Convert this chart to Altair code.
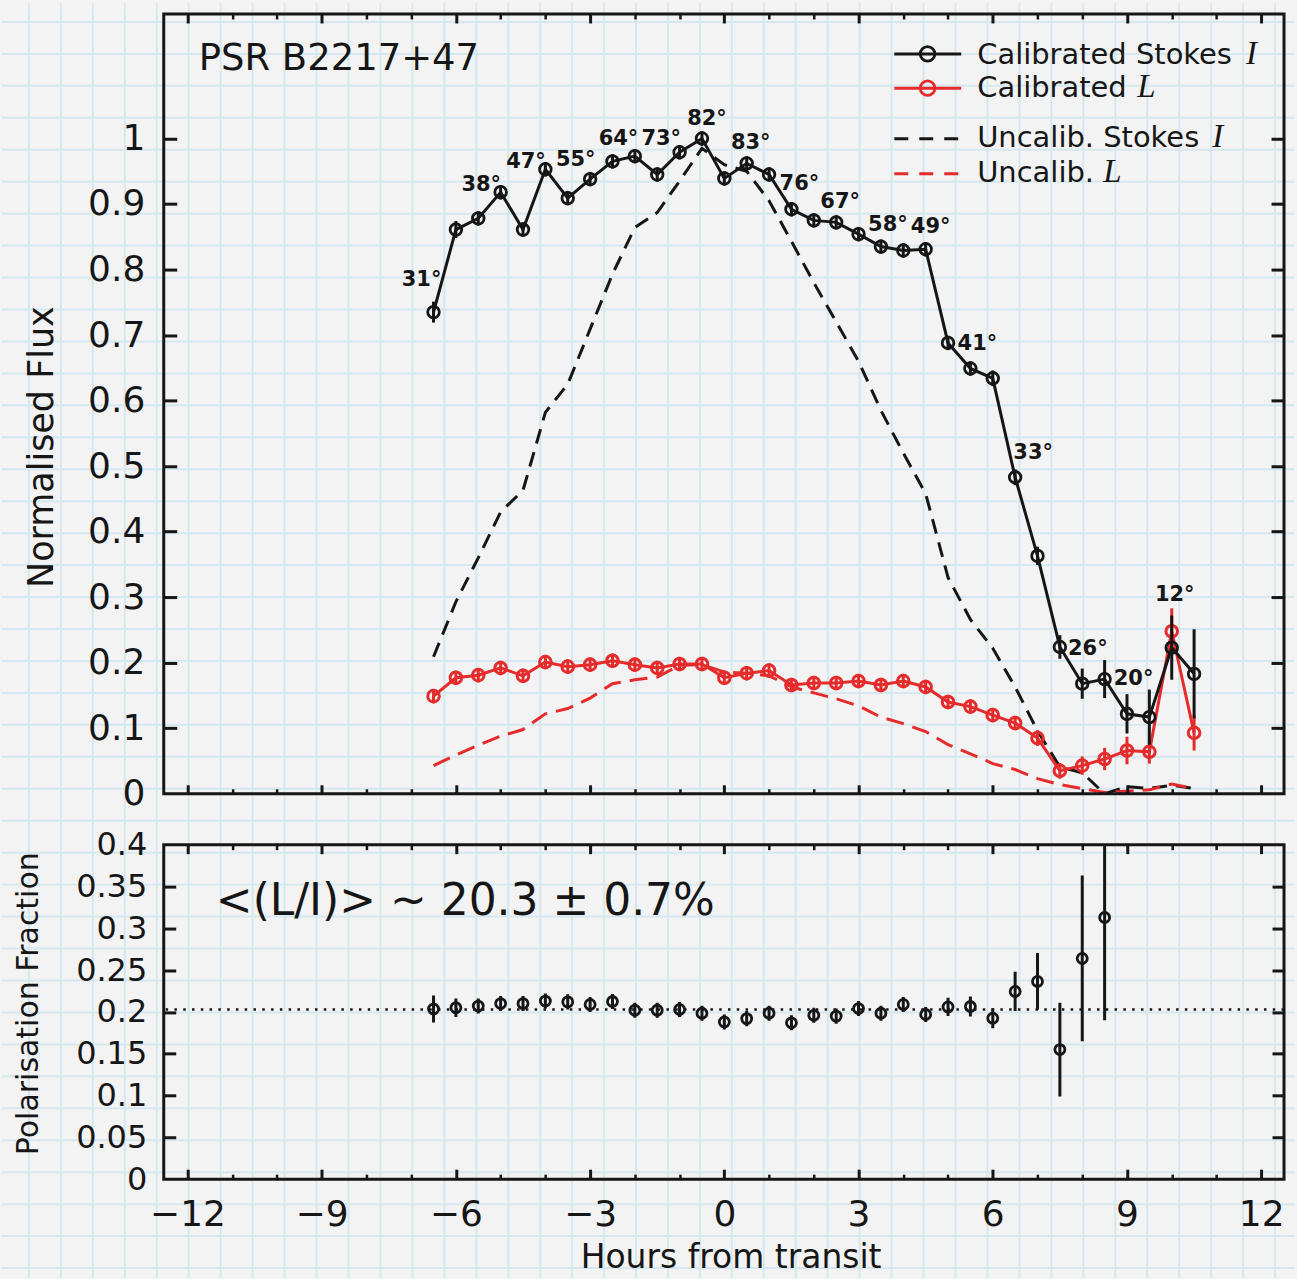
import altair as alt
import pandas as pd

# ---------------------------------------------------------------- data
# Hours from transit of each observing epoch
hours = [-6.5, -6.0, -5.5, -5.0, -4.5, -4.0, -3.5, -3.0, -2.5, -2.0, -1.5, -1.0,
         -0.5, 0.0, 0.5, 1.0, 1.5, 2.0, 2.5, 3.0, 3.5, 4.0, 4.5, 5.0, 5.5, 6.0,
         6.5, 7.0, 7.5, 8.0, 8.5, 9.0, 9.5, 10.0, 10.5]

# Calibrated total intensity (Stokes I), normalised to the peak
stokes_i = [0.735, 0.861, 0.878, 0.918, 0.861, 0.953, 0.909, 0.938, 0.965, 0.973,
            0.945, 0.979, 1.000, 0.939, 0.962, 0.945, 0.892, 0.875, 0.872, 0.854,
            0.835, 0.829, 0.831, 0.688, 0.649, 0.634, 0.483, 0.363, 0.224, 0.168,
            0.175, 0.122, 0.117, 0.223, 0.183]
stokes_i_err = [0.016, 0.013, 0.011, 0.011, 0.011, 0.011, 0.011, 0.011, 0.011, 0.011,
                0.011, 0.011, 0.011, 0.011, 0.011, 0.011, 0.011, 0.011, 0.011, 0.011,
                0.011, 0.011, 0.011, 0.011, 0.011, 0.012, 0.012, 0.014, 0.018, 0.023,
                0.029, 0.030, 0.042, 0.049, 0.068]

# Calibrated linear polarisation L
lin_l = [0.149, 0.177, 0.181, 0.192, 0.180, 0.201, 0.194, 0.197, 0.203, 0.197,
         0.192, 0.198, 0.198, 0.177, 0.184, 0.188, 0.166, 0.169, 0.169, 0.172,
         0.166, 0.172, 0.163, 0.140, 0.133, 0.120, 0.108, 0.085, 0.035, 0.043,
         0.053, 0.066, 0.064, 0.248, 0.093]
lin_l_err = [0.011, 0.011, 0.011, 0.011, 0.011, 0.011, 0.011, 0.011, 0.011, 0.011,
             0.011, 0.011, 0.011, 0.011, 0.011, 0.011, 0.011, 0.011, 0.011, 0.011,
             0.011, 0.011, 0.011, 0.011, 0.011, 0.011, 0.011, 0.012, 0.012, 0.014,
             0.017, 0.021, 0.018, 0.035, 0.027]

# Uncalibrated Stokes I and L
uncal_i = [0.209, 0.293, 0.360, 0.430, 0.463, 0.582, 0.625, 0.709, 0.793, 0.864,
           0.887, 0.935, 0.985, 0.960, 0.950, 0.905, 0.843, 0.780, 0.720, 0.660,
           0.585, 0.520, 0.458, 0.330, 0.266, 0.222, 0.163, 0.096, 0.041, 0.032,
           0.000, 0.011, 0.008, 0.013, 0.008]
uncal_l = [0.043, 0.059, 0.074, 0.088, 0.098, 0.122, 0.130, 0.146, 0.168, 0.174,
           0.178, 0.196, 0.197, 0.186, 0.184, 0.180, 0.163, 0.154, 0.145, 0.134,
           0.117, 0.107, 0.095, 0.075, 0.061, 0.046, 0.037, 0.023, 0.014, 0.008,
           0.002, 0.004, 0.006, 0.015, 0.008]

# Polarisation fraction L/I for the first 31 epochs
frac = [0.2035, 0.205, 0.207, 0.210, 0.210, 0.213, 0.212, 0.209, 0.2125, 0.202,
        0.202, 0.203, 0.1985, 0.188, 0.192, 0.1985, 0.187, 0.196, 0.195, 0.204,
        0.1985, 0.209, 0.197, 0.206, 0.2065, 0.1925, 0.2245, 0.2365, 0.155, 0.264,
        0.313]
frac_err = [0.016, 0.011, 0.009, 0.009, 0.009, 0.009, 0.009, 0.009, 0.009, 0.009,
            0.009, 0.009, 0.009, 0.009, 0.009, 0.009, 0.009, 0.009, 0.009, 0.009,
            0.009, 0.009, 0.009, 0.011, 0.012, 0.012, 0.0235, 0.034, 0.056, 0.099,
            0.123]
mean_frac = 0.203

# Source elevation at selected epochs
angle_hours = [-6.5, -5.5, -4.5, -3.5, -2.5, -1.5, -0.5, 0.5, 1.5, 2.5, 3.5, 4.5,
               5.5, 6.5, 7.5, 8.5, 10.0]
angle_deg = [31, 38, 47, 55, 64, 73, 82, 83, 76, 67, 58, 49, 41, 33, 26, 20, 12]

x_major = [-12, -9, -6, -3, 0, 3, 6, 9, 12]
x_minor = [v for v in range(-12, 13) if v % 3 != 0]
y_top_labels = [round(0.1 * k, 1) for k in range(11)]
y_bot_labels = [round(0.05 * k, 2) for k in range(9)]

# ---------------------------------------------------------------- layout / style
CANVAS_W, CANVAS_H = 1297, 1279
PLOT_LEFT, PLOT_TOP = 163.3, 11.7
W, H_TOP, H_BOT, GAP = 1122, 781, 335, 51

INK = "#161616"
RED = "#e52b2b"
PAPER = "#f3f3f3"
PAPER_LINE = "#d6e8ef"
FONT = "DejaVu Sans"

xs = alt.Scale(domain=[-12.53, 12.51], nice=False, zero=False)
ys_top = alt.Scale(domain=[0, 1.19], nice=False, zero=False)
ys_bot = alt.Scale(domain=[0, 0.4], nice=False, zero=False)

ONE = pd.DataFrame({"h": [0.0], "v": [0.0]})

top_df = pd.DataFrame({
    "hour": hours, "I": stokes_i, "L": lin_l, "I_unc": uncal_i, "L_unc": uncal_l,
    "I_lo": [v - e for v, e in zip(stokes_i, stokes_i_err)],
    "I_hi": [v + e for v, e in zip(stokes_i, stokes_i_err)],
    "L_lo": [v - e for v, e in zip(lin_l, lin_l_err)],
    "L_hi": [v + e for v, e in zip(lin_l, lin_l_err)],
})
frac_df = pd.DataFrame({
    "hour": hours[:len(frac)], "frac": frac,
    "lo": [v - e for v, e in zip(frac, frac_err)],
    "hi": [v + e for v, e in zip(frac, frac_err)],
})


def tick_axis(orient, values, size, width):
    return alt.Axis(orient=orient, values=values, labels=False, ticks=True,
                    tickSize=size, tickWidth=width, tickColor=INK, offset=-size,
                    domain=False, grid=False, title=None, zindex=1)


def carrier(yscale, x_axis=None, y_axis=None):
    return alt.Chart(ONE).mark_point(opacity=0).encode(
        x=alt.X("h:Q", scale=xs, axis=x_axis),
        y=alt.Y("v:Q", scale=yscale, axis=y_axis),
    )


def frame(height):
    return alt.Chart(ONE).mark_rect(fillOpacity=0, stroke=INK, strokeWidth=3).encode(
        x=alt.value(0), x2=alt.value(W), y=alt.value(0), y2=alt.value(height))


# ---------------------------------------------------------------- graph-paper backdrop
paper_x = [28.3 + 32 * k - PLOT_LEFT for k in range(41) if 28.3 + 32 * k < CANVAS_W]
paper_y = [19.7 + 32 * k - PLOT_TOP for k in range(41) if 19.7 + 32 * k < CANVAS_H]
paper_v = alt.Chart(pd.DataFrame({"px": paper_x})).mark_rule(
    color=PAPER_LINE, strokeWidth=2).encode(
    x=alt.X("px:Q", scale=alt.Scale(domain=[0, W], nice=False, zero=False), axis=None),
    y=alt.value(-PLOT_TOP + 1), y2=alt.value(CANVAS_H - PLOT_TOP - 1))
paper_h = alt.Chart(pd.DataFrame({"py": paper_y})).mark_rule(
    color=PAPER_LINE, strokeWidth=2).encode(
    y=alt.Y("py:Q", scale=alt.Scale(domain=[0, H_TOP], reverse=True, nice=False, zero=False),
            axis=None),
    x=alt.value(-PLOT_LEFT + 1), x2=alt.value(CANVAS_W - PLOT_LEFT - 1))

# ---------------------------------------------------------------- top panel
y_top_label_axis = alt.Axis(
    orient="left", values=y_top_labels, ticks=False, domain=False, grid=False,
    labelFontSize=36, labelPadding=19, labelColor=INK, format="~g",
    labelFlush=False, labelOverlap=False, zindex=1,
    title="Normalised Flux", titleFontSize=35, titleFontWeight="normal", titleColor=INK,
    titleX=-111.6, titleY=433.3, titleBaseline="alphabetic", titleAlign="center")

top_axes = [
    carrier(ys_top, tick_axis("bottom", x_major, 9, 3), y_top_label_axis),
    carrier(ys_top, tick_axis("bottom", x_minor, 5, 2.5), tick_axis("left", y_top_labels[1:], 13, 3)),
    carrier(ys_top, tick_axis("top", x_major, 9, 3), tick_axis("right", y_top_labels[1:], 13, 3)),
    carrier(ys_top, tick_axis("top", x_minor, 5, 2.5), None),
]


def top_xy(field):
    return dict(x=alt.X("hour:Q", scale=xs, axis=None),
                y=alt.Y(f"{field}:Q", scale=ys_top, axis=None))


uncal_i_line = alt.Chart(top_df).mark_line(color=INK, strokeWidth=3, strokeDash=[15, 9]).encode(**top_xy("I_unc"))
uncal_l_line = alt.Chart(top_df).mark_line(color=RED, strokeWidth=3, strokeDash=[18, 9]).encode(**top_xy("L_unc"))

l_line = alt.Chart(top_df).mark_line(color=RED, strokeWidth=3).encode(**top_xy("L"))
l_err = alt.Chart(top_df).mark_rule(color=RED, strokeWidth=3).encode(
    **top_xy("L_lo"), y2=alt.Y2("L_hi:Q"))
l_pts = alt.Chart(top_df).mark_point(shape="circle", size=135, filled=False, color=RED,
                                     strokeWidth=3, opacity=1).encode(**top_xy("L"))

i_line = alt.Chart(top_df).mark_line(color=INK, strokeWidth=3).encode(**top_xy("I"))
i_err = alt.Chart(top_df).mark_rule(color=INK, strokeWidth=3).encode(
    **top_xy("I_lo"), y2=alt.Y2("I_hi:Q"))
i_pts = alt.Chart(top_df).mark_point(shape="circle", size=135, filled=False, color=INK,
                                     strokeWidth=2.8, opacity=1).encode(**top_xy("I"))

# elevation labels, nudged clear of the curve
ANGLE_NUDGE = {-6.5: (-12, -32), -5.5: (3, -33), -4.5: (3, -68), -3.5: (8, -38),
               -2.5: (6, -22), -1.5: (4, -36), -0.5: (5, -19), 0.5: (4, -20),
               1.5: (8, -25), 2.5: (4, -20), 3.5: (7, -22), 4.5: (5, -22),
               5.5: (7, -25), 6.5: (18, -24), 7.5: (28, 2), 8.5: (29, 0),
               10.0: (3, -53)}
i_at = dict(zip(hours, stokes_i))
angle_layers = []
for h, d in zip(angle_hours, angle_deg):
    dx, dy = ANGLE_NUDGE[h]
    df = pd.DataFrame({"hour": [h], "I": [i_at[h]], "label": [f"{d}°"]})
    angle_layers.append(
        alt.Chart(df).mark_text(font=FONT, fontSize=21, fontWeight="bold", color=INK,
                                align="center", baseline="middle", dx=dx, dy=dy)
        .encode(**top_xy("I"), text="label:N"))

psr_text = alt.Chart(ONE).mark_text(font=FONT, fontSize=37, color=INK, align="left",
                                    baseline="alphabetic").encode(
    x=alt.value(35), y=alt.value(56), text=alt.value("PSR B2217+47"))

# legend: (label, italic symbol, colour, dashed, circle marker, line y, text baseline, symbol x)
LEGEND = [
    ("Calibrated Stokes", "I", INK, False, True, 40.0, 50.0, 1084.0),
    ("Calibrated", "L", RED, False, True, 74.3, 83.3, 975.0),
    ("Uncalib. Stokes", "I", INK, True, False, 125.0, 133.3, 1050.0),
    ("Uncalib.", "L", RED, True, False, 160.0, 168.3, 941.0),
]
legend_layers = []
for text, sym, col, dashed, marker, ly, ty, sx in LEGEND:
    rule_kw = dict(color=col, strokeWidth=3)
    if dashed:
        rule_kw["strokeDash"] = [14, 11]
    legend_layers.append(alt.Chart(ONE).mark_rule(**rule_kw).encode(
        x=alt.value(731.7), x2=alt.value(798.7), y=alt.value(ly)))
    if marker:
        legend_layers.append(alt.Chart(ONE).mark_point(
            shape="circle", size=214, filled=False, color=col, strokeWidth=2.8, opacity=1).encode(
            x=alt.value(765.0), y=alt.value(ly)))
    legend_layers.append(alt.Chart(ONE).mark_text(
        font=FONT, fontSize=29, color=INK, align="left", baseline="alphabetic").encode(
        x=alt.value(814.7), y=alt.value(ty), text=alt.value(text)))
    legend_layers.append(alt.Chart(ONE).mark_text(
        font="Liberation Serif", fontStyle="italic", fontSize=33, color=INK,
        align="left", baseline="alphabetic").encode(
        x=alt.value(sx), y=alt.value(ty), text=alt.value(sym)))

top_content = alt.layer(
    *top_axes,
    uncal_i_line, uncal_l_line,
    l_line, l_err, l_pts,
    i_line, i_err, i_pts,
    *angle_layers, psr_text, *legend_layers,
    frame(H_TOP),
).resolve_axis(x="independent", y="independent")

top = alt.layer(paper_v, paper_h, top_content).resolve_scale(
    x="independent", y="independent").properties(width=W, height=H_TOP)

# ---------------------------------------------------------------- bottom panel
x_label_axis = alt.Axis(
    orient="bottom", values=x_major, ticks=False, domain=False, grid=False,
    labelFontSize=36, labelPadding=18, labelColor=INK, labelFlush=False,
    labelOverlap=False, zindex=1,
    title="Hours from transit", titleFontSize=33, titleFontWeight="normal", titleColor=INK,
    titleX=567.7, titleY=88.3, titleBaseline="alphabetic", titleAlign="center")
y_bot_label_axis = alt.Axis(
    orient="left", values=y_bot_labels, ticks=False, domain=False, grid=False,
    labelFontSize=32, labelPadding=17, labelColor=INK, format="~g",
    labelFlush=False, labelOverlap=False, zindex=1,
    title="Polarisation Fraction", titleFontSize=30, titleFontWeight="normal",
    titleColor=INK, titleX=-126.6, titleY=158.8, titleBaseline="alphabetic",
    titleAlign="center")

bot_axes = [
    carrier(ys_bot, x_label_axis, y_bot_label_axis),
    carrier(ys_bot, tick_axis("bottom", x_major, 10, 3), tick_axis("left", y_bot_labels[1:-1], 12, 3)),
    carrier(ys_bot, tick_axis("bottom", x_minor, 5, 2.5), tick_axis("right", y_bot_labels[1:-1], 12, 3)),
    carrier(ys_bot, tick_axis("top", x_major, 9, 3), None),
    carrier(ys_bot, tick_axis("top", x_minor, 5, 2.5), None),
]

mean_line = alt.Chart(ONE).mark_rule(color=INK, strokeWidth=2.5, strokeDash=[2.5, 6.3]).encode(
    y=alt.Y(datum=mean_frac, scale=ys_bot, axis=None))
frac_err_rules = alt.Chart(frac_df).mark_rule(color=INK, strokeWidth=3, clip=True).encode(
    x=alt.X("hour:Q", scale=xs, axis=None),
    y=alt.Y("lo:Q", scale=ys_bot, axis=None), y2=alt.Y2("hi:Q"))
frac_pts = alt.Chart(frac_df).mark_point(shape="circle", size=100, filled=False, color=INK,
                                         strokeWidth=2.8, opacity=1).encode(
    x=alt.X("hour:Q", scale=xs, axis=None),
    y=alt.Y("frac:Q", scale=ys_bot, axis=None))
mean_text = alt.Chart(ONE).mark_text(font=FONT, fontSize=44, color=INK, align="left",
                                     baseline="alphabetic").encode(
    x=alt.value(52.2), y=alt.value(70.5), text=alt.value("<(L/I)> ~ 20.3 ± 0.7%"))

bottom = alt.layer(
    *bot_axes, mean_line, frac_err_rules, frac_pts, mean_text, frame(H_BOT),
).resolve_axis(x="independent", y="independent").properties(width=W, height=H_BOT)

chart = alt.vconcat(top, bottom, spacing=GAP, bounds="flush").properties(
    padding=0
).configure(
    font=FONT, background=PAPER
).configure_view(stroke="transparent")

chart.save("out.html", embed_options={"renderer": "svg", "actions": False})
